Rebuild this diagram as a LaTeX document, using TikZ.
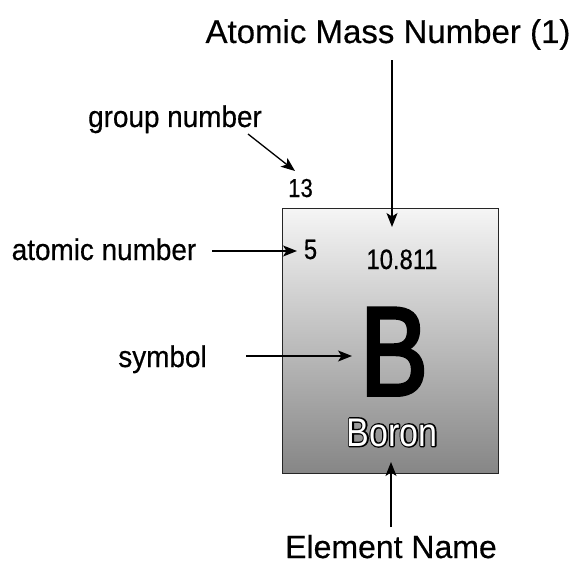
\documentclass[tikz,border=0pt]{standalone}
\usepackage{fontspec}
\setmainfont[FakeBold=0.4]{Liberation Sans}
\newfontfamily\condA[FakeStretch=0.93,FakeBold=0.5]{Liberation Sans}
\newfontfamily\condB[FakeStretch=0.85,FakeBold=0.5]{Liberation Sans}
\newfontfamily\condO[FakeStretch=0.85]{Liberation Sans}
\newfontfamily\condBig[FakeStretch=0.8,FakeBold=3]{Liberation Sans}
\usetikzlibrary{arrows.meta}
\definecolor{boxtop}{HTML}{F5F5F5}
\definecolor{boxbot}{HTML}{868686}
\tikzset{
  arr/.style={-{Stealth[length=14pt,width=11pt,inset=3.5pt]}, line width=1.3pt},
  lbl/.style={inner sep=0pt, anchor=base, font=\condA\fontsize{30}{34}\selectfont},
  head/.style={inner sep=0pt, anchor=base, font=\fontsize{33}{38}\selectfont},
  num/.style={inner sep=0pt, anchor=base, font=\condB\fontsize{28}{32}\selectfont},
}
\begin{document}
\begin{tikzpicture}[x=1pt,y=-1pt]
\useasboundingbox (0,0) rectangle (578,564);
% element box
\node[draw=black!85, line width=1pt, top color=boxtop, bottom color=boxbot,
      minimum width=216pt, minimum height=264pt, inner sep=0pt] (box) at (390,341) {};
% texts
\node[head] (heading) at (388,43) {Atomic Mass Number (1)};
\node[head, font=\fontsize{32}{36}\selectfont] (ename) at (391,558) {Element Name};
\node[lbl] (grp) at (175,127) {group number};
\node[lbl] (atn) at (104,260) {atomic number};
\node[lbl] (sym) at (162.5,367) {symbol};
\node[num, font=\condB\fontsize{26}{30}\selectfont] (g13) at (300.5,197) {13};
\node[num] (five) at (310.5,259) {5};
\node[num] (mass) at (402,269) {10.811};
\node[inner sep=0pt, anchor=base, font=\condBig\fontsize{126}{130}\selectfont] (bsym) at (394,395) {B};
\node[inner sep=0pt, anchor=base, font=\condO\fontsize{40}{44}\selectfont] (boron) at (392,446)
  {\rlap{\special{pdf:literal direct 1 j 2.8 w 2 Tr}Boron\special{pdf:literal direct 0 Tr}}\textcolor{white}{Boron}};
% connector ends
\coordinate (massTip) at (392,227);
\coordinate (grpStart) at (248,134);
\coordinate (grpTip) at (295,171);
\coordinate (atnStart) at (212,251);
\coordinate (atnTip) at (297,251);
\coordinate (symStart) at (246,356);
\coordinate (symTip) at (352,356);
\coordinate (nameStart) at (391,527);
\coordinate (nameTip) at (391,462);
% connectors
\draw[arr, shorten <=10pt] (heading.south -| massTip) -- (massTip);
\draw[arr] (grpStart) -- (grpTip);
\draw[arr] (atnStart) -- (atnTip);
\draw[arr] (symStart) -- (symTip);
\draw[arr] (nameStart) -- (nameTip);
\end{tikzpicture}
\end{document}
